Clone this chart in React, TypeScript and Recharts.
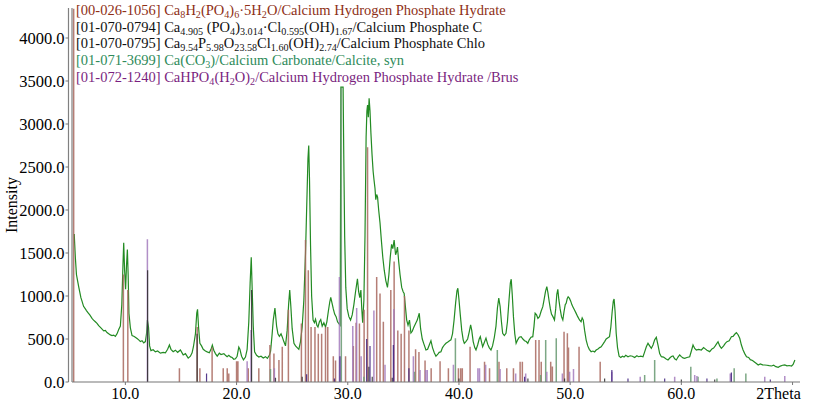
import React from 'react';
import { LineChart, Line, XAxis, YAxis } from 'recharts';

// measured scan: [2theta, intensity]
const scanPoints: [number, number][] = [
  [5.40, 1720], [5.50, 1450], [5.60, 1250], [5.70, 1180], [5.80, 1110], [6.00, 980], [6.10, 940], [6.24, 880], [6.40, 850], [6.50, 830],
  [6.65, 805], [6.80, 780], [7.00, 740], [7.14, 720], [7.30, 700], [7.45, 682], [7.60, 655], [7.80, 630], [8.05, 595], [8.20, 600],
  [8.35, 575], [8.50, 560], [8.65, 548], [8.80, 540], [8.95, 545], [9.10, 530], [9.25, 560], [9.40, 610], [9.55, 650], [9.68, 900],
  [9.78, 1350], [9.85, 1620], [9.93, 1300], [10.02, 1080], [10.10, 1350], [10.18, 1540], [10.25, 1250], [10.32, 800], [10.45, 630], [10.60, 540],
  [10.80, 530], [11.05, 505], [11.20, 490], [11.35, 470], [11.50, 480], [11.65, 455], [11.80, 470], [11.90, 560], [11.98, 720], [12.08, 640],
  [12.18, 420], [12.30, 365], [12.50, 375], [12.70, 350], [12.90, 360], [13.15, 335], [13.40, 345], [13.60, 340], [13.80, 380], [13.96, 430],
  [14.10, 380], [14.30, 352], [14.50, 370], [14.70, 345], [14.95, 372], [15.20, 315], [15.40, 330], [15.65, 278], [15.85, 300], [16.00, 340],
  [16.12, 410], [16.30, 560], [16.42, 800], [16.49, 845], [16.58, 640], [16.70, 450], [16.85, 420], [17.00, 380], [17.20, 360], [17.36, 350],
  [17.55, 340], [17.70, 380], [17.82, 430], [17.95, 370], [18.10, 330], [18.26, 300], [18.45, 335], [18.60, 320], [18.86, 330], [19.00, 310],
  [19.15, 295], [19.30, 310], [19.46, 292], [19.60, 285], [19.75, 265], [19.90, 270], [20.05, 300], [20.20, 405], [20.30, 380], [20.45, 300],
  [20.62, 258], [20.80, 290], [20.95, 380], [21.10, 700], [21.22, 1150], [21.32, 1450], [21.40, 1100], [21.50, 650], [21.62, 350], [21.80, 310],
  [22.00, 290], [22.20, 300], [22.40, 280], [22.60, 295], [22.77, 275], [22.95, 310], [23.06, 360], [23.20, 560], [23.30, 720], [23.45, 860],
  [23.60, 650], [23.72, 560], [23.85, 530], [24.00, 560], [24.10, 527], [24.25, 470], [24.40, 420], [24.55, 600], [24.68, 900], [24.78, 1070],
  [24.88, 880], [25.00, 620], [25.16, 450], [25.30, 420], [25.45, 400], [25.60, 380], [25.75, 470], [25.90, 640], [26.05, 950], [26.20, 1500],
  [26.32, 2100], [26.42, 2600], [26.49, 2750], [26.56, 2350], [26.65, 1600], [26.75, 1000], [26.88, 720], [27.00, 690], [27.10, 730], [27.22, 660],
  [27.32, 640], [27.45, 700], [27.57, 725], [27.70, 650], [27.85, 690], [28.00, 640], [28.12, 700], [28.25, 820], [28.38, 930], [28.47, 985],
  [28.58, 920], [28.70, 850], [28.82, 790], [28.95, 760], [29.08, 700], [29.20, 680], [29.32, 660], [29.38, 3430], [29.58, 3430], [29.64, 2650],
  [29.72, 1700], [29.82, 1100], [29.95, 850], [30.10, 760], [30.25, 720], [30.40, 780], [30.55, 900], [30.70, 1050], [30.87, 1200], [30.98, 1050],
  [31.08, 980], [31.18, 1070], [31.26, 850], [31.34, 690], [31.45, 950], [31.55, 1700], [31.65, 2850], [31.72, 3150], [31.78, 3220], [31.85, 3080],
  [31.92, 3300], [32.00, 3150], [32.08, 2900], [32.18, 2650], [32.28, 2450], [32.36, 2350], [32.45, 2250], [32.52, 2120], [32.60, 2180], [32.68, 2150],
  [32.78, 2000], [32.90, 1850], [33.02, 1650], [33.15, 1450], [33.28, 1300], [33.42, 1180], [33.57, 1100], [33.70, 1250], [33.82, 1450], [33.94, 1600],
  [34.05, 1550], [34.17, 1650], [34.30, 1480], [34.40, 1520], [34.47, 1570], [34.58, 1400], [34.70, 1250], [34.85, 1100], [34.98, 1050], [35.07, 1030],
  [35.18, 880], [35.30, 720], [35.42, 660], [35.55, 720], [35.68, 570], [35.80, 590], [35.95, 640], [36.10, 680], [36.25, 720], [36.43, 800],
  [36.55, 620], [36.70, 500], [36.85, 440], [37.03, 372], [37.18, 380], [37.33, 430], [37.48, 480], [37.62, 400], [37.78, 340], [37.93, 300],
  [38.08, 320], [38.22, 345], [38.38, 352], [38.52, 400], [38.68, 430], [38.83, 450], [39.00, 465], [39.15, 480], [39.28, 490], [39.42, 560],
  [39.56, 720], [39.70, 920], [39.82, 1060], [39.90, 1090], [40.00, 960], [40.12, 780], [40.25, 600], [40.38, 490], [40.48, 450], [40.62, 470],
  [40.78, 500], [40.92, 580], [41.05, 665], [41.15, 600], [41.28, 470], [41.42, 400], [41.53, 372], [41.68, 430], [41.82, 500], [41.92, 527],
  [42.02, 470], [42.13, 410], [42.28, 460], [42.43, 510], [42.58, 440], [42.72, 400], [42.88, 372], [43.02, 420], [43.18, 520], [43.33, 650],
  [43.46, 860], [43.58, 975], [43.70, 880], [43.82, 700], [43.93, 566], [44.08, 540], [44.23, 566], [44.36, 700], [44.50, 950], [44.62, 1150],
  [44.70, 1195], [44.80, 1000], [44.90, 760], [45.02, 560], [45.14, 450], [45.28, 490], [45.42, 520], [45.59, 527], [45.75, 500], [45.90, 480],
  [46.05, 470], [46.19, 450], [46.32, 490], [46.48, 520], [46.64, 527], [46.75, 650], [46.85, 800], [46.98, 780], [47.10, 740], [47.24, 760],
  [47.38, 820], [47.54, 876], [47.66, 960], [47.78, 1050], [47.90, 1110], [48.00, 1040], [48.12, 930], [48.22, 850], [48.32, 790], [48.45, 760],
  [48.59, 721], [48.70, 850], [48.80, 1020], [48.89, 1077], [48.98, 960], [49.10, 850], [49.22, 760], [49.34, 721], [49.45, 820], [49.56, 900],
  [49.64, 915], [49.74, 970], [49.82, 990], [49.94, 972], [50.05, 940], [50.15, 900], [50.24, 876], [50.38, 840], [50.54, 798], [50.68, 760],
  [50.84, 721], [50.98, 700], [51.08, 745], [51.18, 720], [51.30, 600], [51.44, 488], [51.58, 420], [51.72, 380], [51.89, 352], [52.04, 360],
  [52.20, 350], [52.34, 372], [52.50, 385], [52.65, 400], [52.79, 410], [52.95, 440], [53.10, 470], [53.24, 500], [53.40, 515], [53.54, 527],
  [53.66, 640], [53.78, 820], [53.88, 940], [53.95, 965], [54.04, 820], [54.14, 566], [54.26, 400], [54.40, 300], [54.55, 285], [54.70, 300],
  [54.85, 290], [55.00, 310], [55.20, 294], [55.40, 305], [55.60, 300], [55.80, 285], [56.00, 305], [56.15, 294], [56.35, 300], [56.55, 294],
  [56.70, 350], [56.85, 410], [57.00, 450], [57.15, 420], [57.30, 391], [57.45, 430], [57.60, 490], [57.75, 520], [57.90, 430], [58.05, 330],
  [58.20, 294], [58.40, 290], [58.60, 270], [58.80, 256], [59.00, 285], [59.15, 300], [59.25, 302], [59.40, 270], [59.55, 256], [59.70, 290],
  [59.85, 314], [60.00, 295], [60.15, 280], [60.30, 275], [60.50, 285], [60.75, 294], [60.90, 360], [61.05, 430], [61.20, 390], [61.35, 372],
  [61.55, 380], [61.80, 372], [62.00, 400], [62.15, 385], [62.30, 370], [62.55, 353], [62.75, 385], [62.90, 395], [63.00, 410], [63.15, 440],
  [63.30, 469], [63.45, 420], [63.60, 391], [63.80, 420], [63.95, 450], [64.10, 469], [64.30, 480], [64.50, 527], [64.65, 530], [64.80, 555],
  [64.95, 574], [65.10, 550], [65.25, 508], [65.40, 430], [65.55, 372], [65.70, 330], [65.86, 294], [66.05, 285], [66.20, 260], [66.40, 250],
  [66.60, 230], [66.75, 215], [66.91, 198], [67.10, 210], [67.30, 200], [67.50, 198], [67.70, 195], [67.90, 190], [68.11, 186], [68.30, 195],
  [68.50, 178], [68.71, 171], [68.90, 185], [69.10, 195], [69.30, 198], [69.50, 188], [69.70, 192], [69.91, 186], [70.05, 205], [70.21, 256],
];

// reference patterns: stick positions (2theta) and heights
const ocpTheta = [5.35, 9.82, 10.22, 14.86, 16.46, 16.70, 17.80, 18.80, 19.16, 19.30, 20.00, 20.12, 21.05, 22.00, 23.00, 23.36, 23.81, 24.11, 24.66, 25.83, 26.20, 26.45, 26.70, 27.05, 27.35, 27.65, 28.00, 28.20, 28.70, 28.90, 29.80, 30.50, 30.75, 31.05, 31.47, 31.78, 32.60, 32.90, 33.20, 33.87, 34.17, 34.50, 34.80, 35.10, 35.50, 36.10, 36.40, 36.95, 37.50, 38.30, 39.05, 39.95, 40.15, 40.30, 41.00, 42.30, 42.75, 43.60, 44.30, 44.90, 45.50, 45.70, 46.90, 47.20, 47.40, 48.25, 48.40, 49.45, 49.75, 49.85, 50.80, 52.70];
const ocpInt = [4340, 1250, 1070, 160, 640, 160, 400, 160, 160, 100, 240, 240, 160, 160, 430, 330, 256, 410, 840, 680, 1650, 1300, 640, 640, 560, 560, 640, 640, 300, 250, 300, 420, 690, 680, 840, 2730, 1220, 1030, 700, 1070, 1400, 600, 560, 1000, 600, 380, 350, 250, 160, 240, 160, 160, 160, 160, 410, 236, 159, 236, 159, 159, 236, 236, 488, 488, 236, 236, 180, 585, 566, 400, 410, 236];

const brushiteTheta = [11.98, 20.95, 21.30, 23.40, 29.25, 30.45, 30.80, 31.20, 32.35, 33.35, 34.15, 35.90, 36.50, 37.00, 37.15, 39.50, 41.70, 41.85, 42.40, 43.70, 45.10, 46.00, 47.90, 49.30, 49.95, 50.30, 53.75, 56.30, 59.40, 61.20, 61.40, 64.40, 67.50, 69.30];
const brushiteInt = [1660, 240, 605, 160, 1220, 650, 860, 300, 830, 200, 850, 300, 140, 140, 140, 200, 159, 159, 200, 150, 100, 100, 120, 100, 120, 150, 120, 60, 60, 80, 70, 100, 60, 70];

const clApatiteTheta = [12.00, 16.45, 21.35, 23.50, 25.90, 31.90, 32.20, 34.00, 40.00, 46.20, 49.50, 53.10, 60.00, 63.00];
const clApatiteInt = [1300, 560, 1070, 50, 60, 177, 60, 50, 40, 40, 40, 40, 30, 30];

const ohClApatiteTheta = [17.30, 26.30, 28.80, 29.30, 31.70, 32.00, 34.10, 35.50, 45.90, 53.75, 55.20, 58.50, 62.30, 64.50, 68.00];
const ohClApatiteInt = [100, 90, 40, 300, 500, 420, 430, 160, 60, 140, 40, 40, 40, 110, 30];

const calciteTheta = [23.05, 29.42, 31.45, 36.00, 39.68, 43.45, 47.35, 47.80, 48.75, 56.70, 57.60, 60.85, 61.50, 63.20, 64.75, 65.80];
const calciteInt = [150, 3420, 60, 120, 510, 372, 80, 488, 508, 80, 256, 178, 60, 40, 159, 100];

const xTicks = [10, 20, 30, 40, 50, 60, 70];
const xTickLabels = ['10.0', '20.0', '30.0', '40.0', '50.0', '60.0', '2Theta'];
const yTicks = [0, 500, 1000, 1500, 2000, 2500, 3000, 3500, 4000];

type Seg = [string, boolean];
const legendCodes = ['[00-026-1056]', '[01-070-0794]', '[01-070-0795]', '[01-071-3699]', '[01-072-1240]'];
const legendFormulas: Seg[][] = [
  [['Ca', false], ['8', true], ['H', false], ['2', true], ['(PO', false], ['4', true], [')', false], ['6', true], ['·5H', false], ['2', true], ['O', false]],
  [['Ca', false], ['4.905', true], [' (PO', false], ['4', true], [')', false], ['3.014', true], ['·Cl', false], ['0.595', true], ['(OH)', false], ['1.67', true]],
  [['Ca', false], ['9.54', true], ['P', false], ['5.98', true], ['O', false], ['23.58', true], ['Cl', false], ['1.60', true], ['(OH)', false], ['2.74', true]],
  [['Ca(CO', false], ['3', true], [')', false]],
  [['CaHPO', false], ['4', true], ['(H', false], ['2', true], ['O)', false], ['2', true]],
];
const legendNames = [
  '/Calcium Hydrogen Phosphate Hydrate',
  '/Calcium Phosphate C',
  '/Calcium Phosphate Chlo',
  '/Calcium Carbonate/Calcite, syn',
  '/Calcium Hydrogen Phosphate Hydrate /Brus',
];
const legendColors = ['#8e2f16', '#111111', '#111111', '#2e8b5a', '#7a1f80'];

const FONT = 'Liberation Serif, DejaVu Serif, serif';

const scanData = scanPoints.map(([x, y]) => ({ x, y }));
const sticks = (pos: number[], h: number[]) =>
  pos.flatMap((x, i) => [{ x, y: 0 }, { x, y: h[i] }, { x, y: null }]);

const XTick = (props: any) => {
  const { x, y, payload } = props;
  const idx = xTicks.indexOf(payload.value);
  const label = xTickLabels[idx];
  const last = payload.value === 70;
  return (
    <text x={last ? x - 14 : x} y={y} dy="0.75em" textAnchor="middle" style={{ fontFamily: FONT }} fontSize={16} fill="#000">
      {label}
    </text>
  );
};

const YTick = (props: any) => {
  const { x, y, payload } = props;
  return (
    <text x={x} y={y} dy="0.35em" textAnchor="end" style={{ fontFamily: FONT }} fontSize={16.5} fill="#000">
      {Number(payload.value).toFixed(1)}
    </text>
  );
};

export default function App() {
  return (
    <div style={{ position: 'absolute', left: 0, top: 0, width: 816, height: 405, background: '#fff', overflow: 'hidden', fontFamily: FONT }}>
      <LineChart width={816} height={405} margin={{ top: 8, right: 16, bottom: 0, left: 0 }}>
        <XAxis
          dataKey="x"
          type="number"
          domain={[5.2, 70.67]}
          ticks={xTicks}
          allowDataOverflow
          height={23}
          tick={<XTick />}
          tickSize={3}
          tickLine={{ stroke: '#777' }}
          axisLine={{ stroke: '#777', strokeWidth: 1.2 }}
          interval={0}
        />
        <YAxis
          yAxisId="frame"
          type="number"
          domain={[0, 4349]}
          width={3.5}
          tick={false}
          tickLine={false}
          axisLine={{ stroke: '#808080', strokeWidth: 1.2 }}
        />
        <YAxis
          yAxisId="main"
          type="number"
          domain={[0, 4349]}
          ticks={yTicks}
          allowDataOverflow
          width={68.5}
          tick={<YTick />}
          tickSize={3}
          tickMargin={1}
          tickLine={{ stroke: '#777' }}
          axisLine={{ stroke: '#808080', strokeWidth: 1.2 }}
          interval={0}
        />
        <Line yAxisId="main" data={scanData} dataKey="y" stroke="#238b23" strokeWidth={1.2} dot={false} isAnimationActive={false} />
        <Line yAxisId="main" data={sticks(ocpTheta, ocpInt)} dataKey="y" stroke="#a8675e" strokeOpacity={0.85} strokeWidth={1.5} dot={false} isAnimationActive={false} />
        <Line yAxisId="main" data={sticks(calciteTheta, calciteInt)} dataKey="y" stroke="#6f9f78" strokeOpacity={0.9} strokeWidth={1.5} dot={false} isAnimationActive={false} />
        <Line yAxisId="main" data={sticks(brushiteTheta, brushiteInt)} dataKey="y" stroke="#a37bbd" strokeOpacity={0.85} strokeWidth={1.5} dot={false} isAnimationActive={false} />
        <Line yAxisId="main" data={sticks(clApatiteTheta, clApatiteInt)} dataKey="y" stroke="#2a2a2a" strokeOpacity={0.85} strokeWidth={1.2} dot={false} isAnimationActive={false} />
        <Line yAxisId="main" data={sticks(ohClApatiteTheta, ohClApatiteInt)} dataKey="y" stroke="#3a1a7a" strokeOpacity={0.85} strokeWidth={1.2} dot={false} isAnimationActive={false} />
      </LineChart>
      <div
        style={{
          position: 'absolute', left: 76, top: 2, fontFamily: FONT, fontSize: 14.5,
          lineHeight: '16.7px', whiteSpace: 'nowrap', pointerEvents: 'none',
        }}
      >
        {legendCodes.map((code, i) => (
          <div key={code} style={{ color: legendColors[i], height: 16.7 }}>
            {code}{' '}
            {legendFormulas[i].map(([t, sub], j) =>
              sub ? (
                <sub key={j} style={{ fontSize: '0.7em', verticalAlign: '-0.3em', lineHeight: 0 }}>{t}</sub>
              ) : (
                <span key={j}>{t}</span>
              )
            )}
            {legendNames[i]}
          </div>
        ))}
      </div>
      <div
        style={{
          position: 'absolute', left: 12, top: 205, fontFamily: FONT, fontSize: 16,
          transform: 'translate(-50%, -50%) rotate(-90deg)', whiteSpace: 'nowrap',
        }}
      >
        Intensity
      </div>
    </div>
  );
}
